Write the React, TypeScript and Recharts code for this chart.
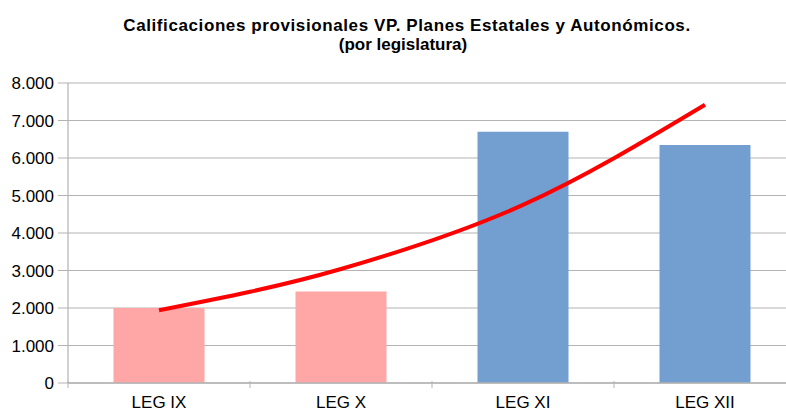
import React from "react";
import { ComposedChart, Bar, Line, XAxis, YAxis, CartesianGrid, Cell } from "recharts";

const categories = ["LEG IX", "LEG X", "LEG XI", "LEG XII"];
const values = [2000, 2440, 6700, 6350];
const trend = [1940, 3040, 4750, 7420];
const barColors = ["#ffa6a6", "#ffa6a6", "#729fcf", "#729fcf"];
const yTicks = [0, 1000, 2000, 3000, 4000, 5000, 6000, 7000, 8000];

const data = categories.map((c, i) => ({ name: c, value: values[i], trend: trend[i] }));

const fmt = (v: number) => v.toLocaleString("de-DE");

const FONT = "'Liberation Sans', Arial, sans-serif";

const XTick = (props: any) => {
  const { x, y, payload, width, visibleTicksCount, index } = props;
  const band = width / visibleTicksCount;
  const axisY = y - 10;
  return (
    <g>
      <line x1={x - band / 2} x2={x - band / 2} y1={axisY} y2={axisY + 7} stroke="#b3b3b3" strokeWidth={1} />
      {index === visibleTicksCount - 1 ? (
        <line x1={x + band / 2} x2={x + band / 2} y1={axisY} y2={axisY + 7} stroke="#b3b3b3" strokeWidth={1} />
      ) : null}
      <text x={x} y={axisY + 27} textAnchor="middle" fontSize={17} fontFamily={FONT} fill="#000">
        {payload.value}
      </text>
    </g>
  );
};

export default function App() {
  return (
    <div style={{ position: "absolute", left: 0, top: 0, width: 786, height: 412, overflow: "hidden", background: "#fff" }}>
      <ComposedChart
        width={800}
        height={412}
        data={data}
        margin={{ top: 83, right: 4, bottom: 0, left: 0 }}
        barCategoryGap="25%"
      >
        <text x={407} y={31} textAnchor="middle" fontSize={17} fontWeight="bold" fontFamily={FONT} fill="#000" letterSpacing={0.6}>
          Calificaciones provisionales VP. Planes Estatales y Autonómicos.
        </text>
        <text x={403} y={50} textAnchor="middle" fontSize={17} fontWeight="bold" fontFamily={FONT} fill="#000">
          (por legislatura)
        </text>
        <CartesianGrid vertical={false} stroke="#b3b3b3" strokeWidth={1.2} />
        <XAxis
          dataKey="name"
          height={29}
          axisLine={{ stroke: "#b3b3b3", strokeWidth: 1.5 }}
          tickLine={false}
          tick={<XTick />}
          interval={0}
        />
        <YAxis
          width={68}
          domain={[0, 8000]}
          ticks={yTicks}
          tickFormatter={fmt}
          axisLine={{ stroke: "#b3b3b3", strokeWidth: 1.2 }}
          tickLine={{ stroke: "#b3b3b3" }}
          tickSize={10}
          tickMargin={4}
          tick={{ fontSize: 17, fontFamily: FONT, fill: "#000" }}
          interval={0}
        />
        <Bar dataKey="value" isAnimationActive={false}>
          {data.map((d, i) => (
            <Cell key={d.name} fill={barColors[i]} />
          ))}
        </Bar>
        <Line
          dataKey="trend"
          type="monotone"
          stroke="#ff0000"
          strokeWidth={4}
          dot={false}
          isAnimationActive={false}
        />
      </ComposedChart>
    </div>
  );
}
